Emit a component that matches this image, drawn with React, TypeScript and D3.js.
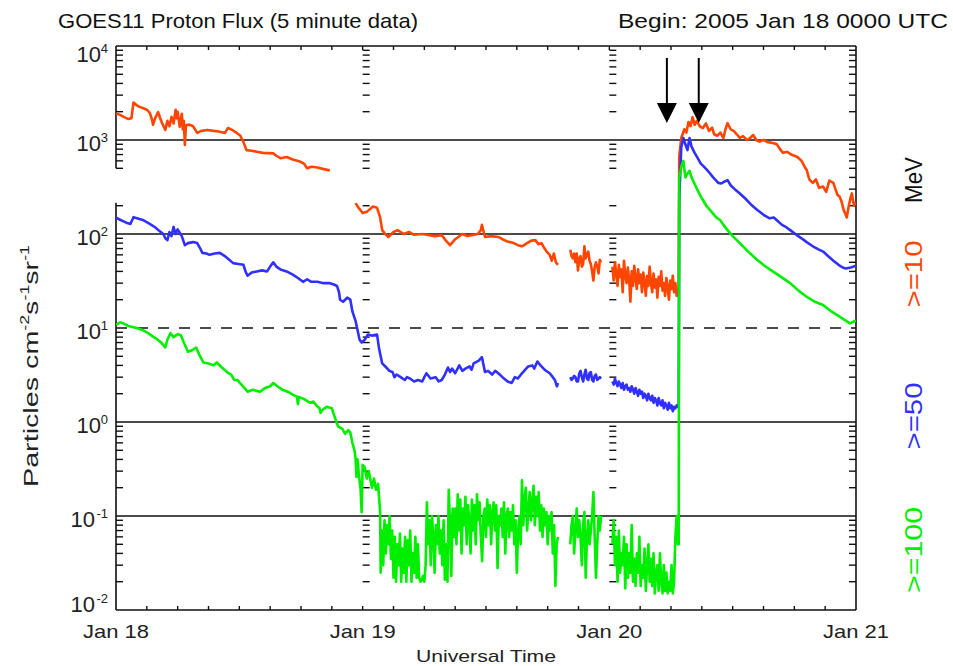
import React from 'react';
import * as d3 from 'd3';

// ---------- data ----------
// time in hours since 2005 Jan 18 0000 UTC, flux in particles cm^-2 s^-1 sr^-1
const HOUR_DOMAIN: [number, number] = [0, 72];
const FLUX_DOMAIN: [number, number] = [1e-2, 1e4];
const DAY_LABELS = ['Jan 18', 'Jan 19', 'Jan 20', 'Jan 21'];
const DECADES = [4, 3, 2, 1, 0, -1, -2];
const SOLID_GRID = [1e3, 1e2, 1e0, 1e-1];
const DASHED_GRID = [1e1];
const ARROW_HOURS = [53.6, 56.7];
const NOISE_STEP = 0.125;
const GAP_BAND: [number, number] = [215, 500];

const ORANGE_A: [number, number][] = [
  [0, 1920], [0.4, 1850], [0.8, 1750], [1.2, 1670], [1.5, 1700], [1.7, 2500], [2.0, 2350], [2.3, 2250],
  [2.6, 2190], [3.0, 2100], [3.3, 1930], [3.5, 1650], [3.6, 1450], [3.8, 1700], [4.1, 1980], [4.3, 1700],
  [4.5, 1500], [4.8, 1280], [5.0, 1600], [5.2, 1400], [5.4, 1760], [5.6, 1500], [5.8, 2090], [5.9, 1700],
  [6.0, 2000], [6.2, 1380], [6.4, 1900], [6.5, 1300], [6.6, 1600], [6.7, 885], [6.8, 1400], [6.9, 1450],
  [7.2, 1450], [7.5, 1400], [7.9, 1190], [8.3, 1250], [8.9, 1280], [9.5, 1250], [10.0, 1230], [10.6, 1190],
  [10.9, 1340], [11.3, 1280], [11.7, 1200], [12.1, 1110], [12.4, 950], [12.7, 780], [13.2, 770], [13.7, 750],
  [14.3, 730], [15.3, 720], [15.6, 680], [16.0, 640], [16.6, 660], [17.2, 620], [17.9, 590], [18.3, 560],
  [18.6, 500], [19.0, 520], [19.6, 510], [20.2, 490], [20.8, 475],
];
const ORANGE_B: [number, number][] = [
  [23.3, 213], [23.6, 190], [24.0, 167], [24.4, 172], [25.0, 196], [25.4, 190], [25.7, 150], [25.9, 110],
  [26.2, 100], [26.5, 93], [27.0, 105], [27.4, 110], [28.0, 100], [28.5, 105], [29.0, 98], [29.8, 100],
  [30.5, 97], [31.0, 95], [31.7, 97], [32.1, 85], [32.5, 76], [33.0, 88], [33.7, 100], [34.2, 95],
  [34.6, 97], [35.2, 100], [35.5, 110], [35.6, 125], [35.9, 93], [36.5, 95], [37.2, 93], [37.6, 88],
  [38.1, 83], [38.7, 80], [39.1, 76], [39.5, 74], [40.0, 80], [40.4, 85], [40.8, 86], [41.1, 78],
  [41.4, 80], [41.7, 70], [41.9, 65], [42.2, 60], [42.4, 52], [42.6, 62], [42.8, 50], [43.0, 47],
];
const ORANGE_C = [68, 58, 55, 62, 50, 62, 41, 55, 58, 45, 48, 74, 55, 60, 65, 52, 48, 40, 32, 45, 50, 45, 38, 53, 50];
const ORANGE_JAN20 = [
  45, 32, 50, 38, 28, 47, 35, 42, 24, 52, 36, 30, 44, 33, 19, 40, 28, 46, 34, 26,
  42, 30, 37, 24, 39, 31, 22, 36, 28, 45, 30, 24, 38, 27, 33, 21, 35, 28, 40, 25,
  30, 22, 34, 27, 20, 32, 26, 36, 24, 30, 22, 25,
];
const ORANGE_E: [number, number][] = [
  [54.75, 25], [54.8, 660], [55.0, 1050], [55.3, 1300], [55.5, 1200], [55.7, 1550], [55.9, 1400], [56.1, 1750],
  [56.3, 1450], [56.5, 1600], [56.8, 1400], [57.1, 1340], [57.4, 1500], [57.7, 1250], [58.0, 1350], [58.2, 1150],
  [58.5, 1110], [58.8, 1200], [59.1, 1050], [59.3, 1300], [59.5, 1510], [59.8, 1300], [60.1, 1250], [60.4, 1150],
  [60.7, 1050], [61.0, 1100], [61.4, 1000], [61.7, 1050], [62.0, 1130], [62.3, 1000], [62.6, 960], [63.0, 1000],
  [63.4, 950], [63.9, 930], [64.3, 900], [64.6, 800], [64.9, 730], [65.3, 750], [65.7, 700], [66.0, 680],
  [66.3, 660], [66.7, 600], [67.0, 520], [67.2, 480], [67.4, 400], [67.5, 375], [67.8, 350], [68.1, 380],
  [68.4, 310], [68.8, 320], [69.1, 280], [69.4, 370], [69.8, 350], [70.0, 300], [70.2, 260], [70.4, 250],
  [70.6, 220], [70.8, 180], [71.0, 160], [71.1, 150], [71.3, 200], [71.5, 250], [71.6, 270], [71.8, 200], [72.0, 215],
];

const BLUE_A: [number, number][] = [
  [0, 149], [0.5, 140], [1.0, 132], [1.4, 128], [1.7, 151], [2.2, 145], [2.6, 141], [3.2, 130], [3.8, 118],
  [4.3, 106], [4.6, 100], [4.8, 90], [5.0, 86], [5.2, 105], [5.4, 95], [5.6, 119], [5.8, 100], [6.0, 112],
  [6.2, 103], [6.4, 95], [6.7, 76], [7.0, 80], [7.5, 82], [7.9, 80], [8.2, 70], [8.4, 63], [8.8, 62],
  [9.1, 60], [9.6, 62], [10.1, 63], [10.7, 57], [11.4, 49], [11.9, 48], [12.4, 47], [12.6, 40], [12.8, 36],
  [13.2, 39], [13.7, 40], [14.2, 41], [14.7, 40], [15.0, 45], [15.3, 50], [15.6, 45], [16.0, 42], [16.6, 40],
  [17.2, 37], [17.7, 34], [18.2, 31], [18.6, 33], [19.0, 31], [19.6, 31], [20.2, 30], [20.8, 30], [21.2, 29],
  [21.5, 28], [21.7, 24], [21.8, 20], [22.1, 19], [22.5, 21], [22.8, 20], [23.0, 15], [23.3, 12], [23.5, 9.5],
  [23.7, 7.5], [23.9, 7.0], [24.2, 7.5], [24.5, 8.5], [24.9, 8.3], [25.4, 8.5], [25.6, 6], [25.9, 4.2],
  [26.3, 3.8], [26.6, 3.5], [26.9, 3.4], [27.1, 3.0], [27.3, 3.2], [27.7, 3.0], [28.1, 2.8], [28.3, 3.0],
  [28.6, 2.9], [29.0, 2.7], [29.4, 2.8], [29.8, 2.7], [30.0, 3.0], [30.2, 3.3], [30.6, 2.9], [31.1, 3.0],
  [31.4, 2.7], [31.7, 2.8], [32.0, 3.2], [32.3, 3.8], [32.5, 3.4], [32.7, 3.7], [33.0, 3.3], [33.4, 4.0],
  [33.7, 3.5], [34.0, 3.7], [34.4, 3.9], [34.6, 3.6], [34.8, 4.2], [35.3, 4.5], [35.6, 4.9], [35.9, 3.4],
  [36.2, 3.5], [36.6, 3.2], [36.9, 3.5], [37.2, 3.3], [37.6, 3.0], [38.1, 2.7], [38.5, 2.6], [38.8, 3.0],
  [39.1, 2.9], [39.5, 3.3], [40.1, 3.9], [40.5, 4.0], [40.7, 3.7], [41.0, 4.4], [41.3, 4.0], [41.7, 3.6],
  [42.2, 3.3], [42.5, 3.0], [42.7, 2.8], [42.9, 2.4], [43.0, 2.6],
];
const BLUE_C = [3.0, 2.8, 2.9, 3.1, 3.0, 2.7, 2.7, 3.3, 3.5, 3.0, 2.7, 3.2, 3.6, 2.9, 2.8, 3.3, 3.4, 2.8, 2.7, 3.1, 3.2, 2.8, 2.9, 3.0, 2.9];
const BLUE_JAN20 = [
  2.7, 2.5, 2.9, 2.6, 2.4, 2.7, 2.5, 2.3, 2.6, 2.2, 2.4, 2.5, 2.2, 2.3, 2.1, 2.4, 2.2, 2.0, 2.3, 2.1,
  1.9, 2.2, 2.0, 2.1, 1.8, 2.0, 1.9, 1.7, 2.0, 1.8, 1.7, 1.9, 1.6, 1.8, 1.7, 1.5, 1.8, 1.6, 1.5, 1.7,
  1.4, 1.6, 1.5, 1.35, 1.6, 1.4, 1.5, 1.3, 1.45, 1.4, 1.5, 1.45,
];
const BLUE_E: [number, number][] = [
  [54.75, 1.5], [54.8, 230], [55.0, 840], [55.2, 1050], [55.4, 900], [55.6, 780], [55.8, 1050], [56.0, 850],
  [56.3, 730], [56.6, 640], [56.9, 560], [57.2, 520], [57.5, 480], [57.8, 440], [58.1, 400], [58.4, 370],
  [58.6, 350], [58.9, 345], [59.2, 360], [59.5, 375], [59.8, 330], [60.2, 300], [60.7, 270], [61.2, 240],
  [61.8, 205], [62.4, 180], [63.0, 160], [63.6, 147], [64.0, 150], [64.3, 140], [64.8, 125], [65.2, 118],
  [65.6, 110], [66.2, 98], [66.7, 90], [67.2, 82], [67.8, 74], [68.3, 69], [68.8, 65], [69.3, 58],
  [69.8, 52], [70.3, 47], [70.7, 44], [71.0, 43], [71.5, 44], [72.0, 46],
];

const GREEN_A: [number, number][] = [
  [0, 10.8], [0.4, 11.5], [0.7, 11.2], [1.2, 10.5], [2.0, 10.0], [2.5, 9.6], [3.0, 9.0], [3.6, 8.1], [4.0, 7.6],
  [4.4, 7.0], [4.8, 6.2], [5.0, 7.5], [5.3, 8.8], [5.6, 8.0], [6.0, 8.6], [6.3, 8.4], [6.6, 7.0], [7.0, 5.6],
  [7.4, 5.8], [7.8, 6.2], [8.1, 5.2], [8.5, 4.3], [9.0, 4.2], [9.5, 4.0], [9.8, 4.3], [10.3, 3.8], [10.8, 3.4],
  [11.2, 3.2], [11.5, 2.8], [11.8, 2.8], [12.2, 2.5], [12.8, 2.1], [13.3, 2.2], [14.0, 2.1], [14.5, 2.3],
  [15.0, 2.4], [15.3, 2.6], [15.7, 2.4], [16.2, 2.2], [16.7, 2.1], [17.2, 1.95], [17.6, 1.86], [17.7, 1.55],
  [17.8, 1.85], [18.3, 1.75], [18.9, 1.6], [19.2, 1.65], [19.5, 1.5], [19.8, 1.4], [19.9, 1.25], [20.1, 1.35],
  [20.5, 1.45], [21.0, 1.4], [21.2, 1.2], [21.6, 0.9], [22.0, 0.85], [22.3, 0.75], [22.6, 0.82], [22.8, 0.77],
  [23.0, 0.6], [23.2, 0.5], [23.3, 0.42], [23.4, 0.26], [23.5, 0.4], [23.6, 0.3], [23.8, 0.19], [23.9, 0.11],
  [24.0, 0.35], [24.2, 0.33], [24.4, 0.25], [24.6, 0.3], [24.9, 0.2], [25.1, 0.25], [25.3, 0.19], [25.5, 0.22], [25.7, 0.11],
];
const GREEN_JAN19 = [
  0.025, 0.07, 0.03, 0.09, 0.04, 0.08, 0.05, 0.1, 0.035, 0.07, 0.022,
  0.06, 0.02, 0.05, 0.03, 0.065, 0.02, 0.045, 0.025, 0.06, 0.02, 0.055, 0.03, 0.07, 0.02, 0.04, 0.025, 0.06, 0.022, 0.05,
  0.022, 0.02, 0.021, 0.023, 0.02, 0.03,
  0.14, 0.05, 0.09, 0.03, 0.1, 0.06, 0.025, 0.08, 0.05, 0.1, 0.04, 0.07, 0.03, 0.09, 0.021,
  0.05, 0.02, 0.19, 0.08, 0.023, 0.12, 0.06,
  0.12, 0.05, 0.17, 0.07, 0.15, 0.04, 0.12, 0.08, 0.16, 0.05, 0.13, 0.09, 0.04, 0.15, 0.07, 0.13, 0.05, 0.17, 0.09, 0.14, 0.06,
  0.033, 0.1, 0.12, 0.06, 0.15, 0.08, 0.13, 0.05, 0.11, 0.14, 0.07, 0.13, 0.028, 0.1, 0.08, 0.12,
  0.06, 0.14, 0.04, 0.1, 0.12, 0.06, 0.11, 0.07, 0.13, 0.05, 0.09, 0.025, 0.07, 0.1, 0.05,
  0.24, 0.08, 0.15, 0.2, 0.07, 0.12, 0.18, 0.09, 0.14, 0.21, 0.08, 0.16, 0.1, 0.18, 0.07, 0.13,
  0.06, 0.12, 0.08, 0.11, 0.05, 0.1, 0.07, 0.11, 0.04, 0.08, 0.018, 0.05, 0.06,
];
const GREEN_C = [0.05, 0.08, 0.1, 0.04, 0.07, 0.12, 0.06, 0.09, 0.06, 0.03, 0.08, 0.11, 0.022, 0.06, 0.09, 0.05, 0.07, 0.1, 0.18, 0.06, 0.022, 0.05, 0.1, 0.07, 0.1];
const GREEN_JAN20 = [
  0.05, 0.09, 0.03, 0.06, 0.02, 0.07, 0.025, 0.04, 0.03, 0.06, 0.017, 0.05, 0.022, 0.04, 0.025, 0.08, 0.02, 0.035, 0.018, 0.04,
  0.025, 0.06, 0.018, 0.03, 0.022, 0.045, 0.016, 0.03, 0.05, 0.02, 0.035, 0.018, 0.04, 0.015, 0.025, 0.03, 0.016, 0.04, 0.02, 0.015,
  0.03, 0.016, 0.025, 0.015, 0.02, 0.016, 0.03, 0.015, 0.02, 0.06, 0.1, 0.05,
];
const GREEN_E: [number, number][] = [
  [54.75, 0.05], [54.8, 400], [55.0, 520], [55.2, 600], [55.4, 400], [55.6, 440], [55.8, 470], [56.0, 400],
  [56.3, 340], [56.6, 290], [57.0, 240], [57.5, 195], [58.0, 170], [58.4, 150], [58.8, 140], [59.1, 125],
  [59.5, 110], [60.0, 95], [60.7, 80], [61.5, 65], [62.4, 53], [63.1, 46], [63.9, 40], [64.7, 35],
  [65.6, 30], [66.4, 25], [67.2, 21.5], [68.0, 19], [68.8, 17.6], [69.6, 15], [70.4, 13.2], [71.0, 12],
  [71.4, 11.2], [72.0, 12],
];

// start times of the evenly sampled noisy stretches
const JAN19_NOISE_START = 25.75;
const LATE19_START = 44.2;
const JAN20_START = 48.3;

function even(t0: number, dt: number, vals: number[]): [number, number][] {
  return vals.map((v, i) => [t0 + i * dt, v] as [number, number]);
}

const SERIES = [
  {
    name: '>=10', color: '#ff4500', labelLen: 67,
    segments: [ORANGE_A, ORANGE_B, even(LATE19_START, NOISE_STEP, ORANGE_C), [...even(JAN20_START, NOISE_STEP, ORANGE_JAN20), ...ORANGE_E]],
  },
  {
    name: '>=50', color: '#3030ff', labelLen: 67,
    segments: [BLUE_A, even(LATE19_START, NOISE_STEP, BLUE_C), [...even(JAN20_START, NOISE_STEP, BLUE_JAN20), ...BLUE_E]],
  },
  {
    name: '>=100', color: '#00ee00', labelLen: 86,
    segments: [[...GREEN_A, ...even(JAN19_NOISE_START, NOISE_STEP, GREEN_JAN19)], even(LATE19_START, NOISE_STEP, GREEN_C), [...even(JAN20_START, NOISE_STEP, GREEN_JAN20), ...GREEN_E]],
  },
];

// ---------- layout ----------
const W = 953;
const H = 666;
const L = 116, R = 856, T = 46, B = 610;
const FONT = '"Liberation Sans", Arial, sans-serif';
const INK = '#111';

export default function App() {
  const x = d3.scaleLinear().domain(HOUR_DOMAIN).range([L, R]);
  const y = d3.scaleLog().domain(FLUX_DOMAIN).range([B, T]);
  const line = d3.line<[number, number]>().x(d => x(d[0])).y(d => y(d[1]));

  const minor: number[] = [];
  for (let n = -2; n <= 3; n++) for (let m = 2; m <= 9; m++) minor.push(m * Math.pow(10, n));
  const inGap = (v: number) => v > GAP_BAND[0] && v < GAP_BAND[1];

  const dayHours = d3.range(1, 3).map(d => d * 24);
  const threeHour = d3.range(3, 72, 3);

  const labelBaseline = (d: number) => {
    const ty = y(Math.pow(10, d));
    if (d === 4) return ty + 16;
    if (d === -2) return ty + 2;
    return ty + 10.5;
  };

  return (
    <svg width={W} height={H} style={{ position: 'absolute', left: 0, top: 0, background: '#fff' }} fontFamily={FONT}>
      <rect x={0} y={0} width={W} height={H} fill="#fff" />
      {/* title */}
      <text x={58} y={28} fontSize={21} fill={INK} textLength={360} lengthAdjust="spacingAndGlyphs">GOES11 Proton Flux (5 minute data)</text>
      <text x={618} y={28} fontSize={21} fill={INK} textLength={330} lengthAdjust="spacingAndGlyphs">Begin: 2005 Jan 18 0000 UTC</text>

      {/* grid lines */}
      {SOLID_GRID.map(v => (
        <line key={'g' + v} x1={L} x2={R} y1={y(v)} y2={y(v)} stroke={INK} strokeWidth={1.6} />
      ))}
      {DASHED_GRID.map(v => (
        <line key={'d' + v} x1={L} x2={R} y1={y(v)} y2={y(v)} stroke={INK} strokeWidth={1.6} strokeDasharray="11 10" />
      ))}

      {/* frame */}
      <line x1={L} x2={R} y1={T} y2={T} stroke={INK} strokeWidth={1.6} />
      <line x1={L} x2={R} y1={B} y2={B} stroke={INK} strokeWidth={1.6} />
      <line x1={R} x2={R} y1={T} y2={B} stroke={INK} strokeWidth={1.6} />
      <line x1={L} x2={L} y1={T} y2={y(GAP_BAND[1])} stroke={INK} strokeWidth={1.6} />
      <line x1={L} x2={L} y1={y(GAP_BAND[0])} y2={B} stroke={INK} strokeWidth={1.6} />

      {/* minor ticks: left, right, day boundaries */}
      {minor.filter(v => !inGap(v)).map(v => (
        <line key={'lt' + v} x1={L} x2={L + 7} y1={y(v)} y2={y(v)} stroke={INK} strokeWidth={1.4} />
      ))}
      {minor.map(v => (
        <line key={'rt' + v} x1={R} x2={R - 7} y1={y(v)} y2={y(v)} stroke={INK} strokeWidth={1.4} />
      ))}
      {dayHours.map(h =>
        minor.filter(v => !inGap(v)).map(v => (
          <line key={'dt' + h + '_' + v} x1={x(h)} x2={x(h) + 7} y1={y(v)} y2={y(v)} stroke={INK} strokeWidth={1.4} />
        ))
      )}
      {/* 3-hour ticks top and bottom */}
      {threeHour.map(h => (
        <g key={'h' + h}>
          <line x1={x(h)} x2={x(h)} y1={T} y2={T + 4} stroke={INK} strokeWidth={1.4} />
          <line x1={x(h)} x2={x(h)} y1={B} y2={B - 4} stroke={INK} strokeWidth={1.4} />
        </g>
      ))}

      {/* data */}
      <defs>
        <clipPath id="plotclip">
          <rect x={L} y={T} width={R - L} height={B - T} />
        </clipPath>
      </defs>
      <g clipPath="url(#plotclip)">
        {SERIES.map(s =>
          s.segments.map((seg, i) => (
            <path key={s.name + i} d={line(seg) || ''} fill="none" stroke={s.color} strokeWidth={2.6} strokeLinejoin="round" />
          ))
        )}
      </g>

      {/* arrows */}
      {ARROW_HOURS.map(h => {
        const ax = x(h);
        return (
          <g key={'a' + h}>
            <line x1={ax} x2={ax} y1={58} y2={105} stroke="#000" strokeWidth={2} />
            <polygon points={`${ax - 10},103 ${ax + 10},103 ${ax},123`} fill="#000" />
          </g>
        );
      })}

      {/* y tick labels */}
      {DECADES.map(d => {
        const by = labelBaseline(d);
        return (
          <g key={'yl' + d} fill="#222">
            <text x={108} y={by - 9} fontSize={13} textAnchor="end">{d < 0 ? '-' + Math.abs(d) : String(d)}</text>
            <text x={d < 0 ? 95 : 101} y={by} fontSize={22} textAnchor="end">10</text>
          </g>
        );
      })}

      {/* x tick labels */}
      {DAY_LABELS.map((lab, i) => (
        <text key={lab} x={x(i * 24)} y={638} fontSize={19} textAnchor="middle" fill="#222" textLength={66} lengthAdjust="spacingAndGlyphs">{lab}</text>
      ))}
      <text x={486} y={662} fontSize={17} textAnchor="middle" fill="#222" textLength={140} lengthAdjust="spacingAndGlyphs">Universal Time</text>

      {/* y axis title */}
      <text transform="translate(38,366) rotate(-90)" fontSize={21} textAnchor="middle" fill="#222" textLength={242} lengthAdjust="spacingAndGlyphs">
        Particles cm<tspan dy={-9} fontSize={13}>-2</tspan><tspan dy={9}>s</tspan><tspan dy={-9} fontSize={13}>-1</tspan><tspan dy={9}>sr</tspan><tspan dy={-9} fontSize={13}>-1</tspan>
      </text>

      {/* right labels */}
      <text transform="translate(922,180) rotate(-90)" fontSize={24} textAnchor="middle" fill="#111" textLength={46} lengthAdjust="spacingAndGlyphs">MeV</text>
      {SERIES.map((s, i) => {
        const cy = [274, 416, 550][i];
        return (
          <text key={'rl' + s.name} transform={`translate(922,${cy}) rotate(-90)`} fontSize={24} textAnchor="middle" fill={s.color} textLength={s.labelLen} lengthAdjust="spacingAndGlyphs">{s.name}</text>
        );
      })}
    </svg>
  );
}
